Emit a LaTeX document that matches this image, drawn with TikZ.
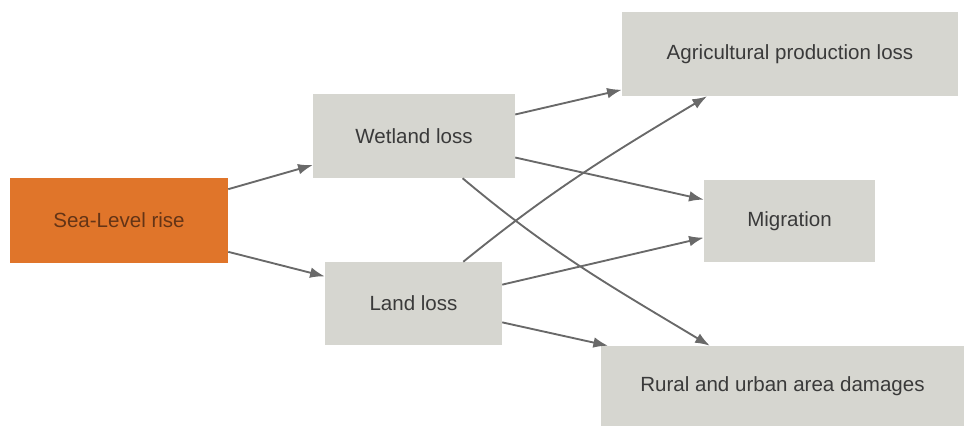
\documentclass[tikz,border=0pt]{standalone}
\usepackage{fontspec}
\setmainfont{Liberation Sans}
\usetikzlibrary{arrows.meta}

\definecolor{boxgray}{RGB}{214,214,208}
\definecolor{seaorange}{RGB}{224,117,42}
\definecolor{linegray}{RGB}{105,105,105}
\definecolor{textgray}{RGB}{58,58,58}
\definecolor{seatext}{RGB}{100,52,22}

\tikzset{
  effectbox/.style={fill=boxgray, draw=none, inner sep=0pt, text=textgray,
    font=\fontsize{15.4}{18}\selectfont},
  causebox/.style={effectbox, fill=seaorange, text=seatext},
  link/.style={draw=linegray, line width=1.4pt, -{Latex[length=11pt,width=8pt]}}
}

\begin{document}
\begin{tikzpicture}[x=0.75pt,y=0.75pt,yscale=-1]
\useasboundingbox (0,0) rectangle (964,426);

%Shape: Rectangle [sea]
\node [causebox, minimum width=218*0.75pt, minimum height=85*0.75pt] (sea) at (119,220.5) {Sea-Level rise};
%Shape: Rectangle [wetland]
\node [effectbox, minimum width=202*0.75pt, minimum height=84*0.75pt] (wet) at (414,136) {Wetland loss};
%Shape: Rectangle [land]
\node [effectbox, minimum width=177*0.75pt, minimum height=83*0.75pt] (land) at (413.5,303.5) {Land loss};
%Shape: Rectangle [agricultural]
\node [effectbox, minimum width=336*0.75pt, minimum height=84*0.75pt] (agri) at (790,54) {Agricultural production loss};
%Shape: Rectangle [migration]
\node [effectbox, minimum width=171*0.75pt, minimum height=82*0.75pt] (mig) at (789.5,221) {Migration};
%Shape: Rectangle [rural]
\node [effectbox, minimum width=363*0.75pt, minimum height=80*0.75pt] (rural) at (782.5,386) {Rural and urban area damages};

%Straight Lines
\draw [link] (sea.16.1) -- (wet.196);
\draw [link] (sea.-16.1) -- (land.163.9);
\draw [link] (wet.12.8) -- (agri.192.1);
\draw [link] (wet.-12.8) -- (mig.166.8);
\draw [link] (land.12.4) -- (mig.191.9);
\draw [link] (land.-12.4) -- (rural.167.2);
%Curves (angles flipped by yscale=-1)
\draw [link] (wet.-41.2) to[out=40,in=-149] (rural.151.1);
\draw [link] (land.40.6) to[out=-39,in=149] (agri.207.1);

\end{tikzpicture}
\end{document}
